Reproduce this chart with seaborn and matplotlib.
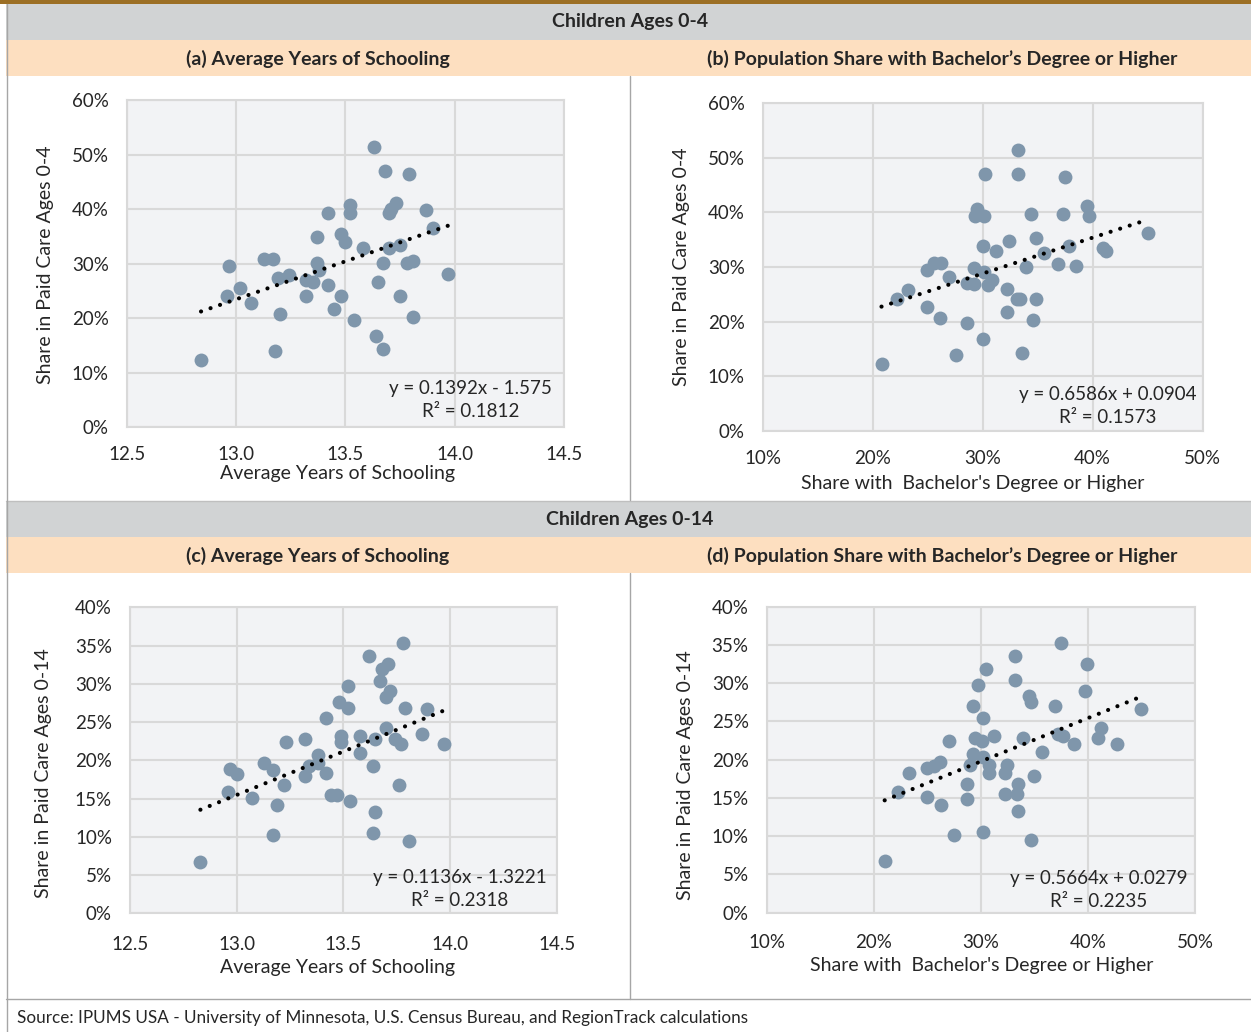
import numpy as np
import pandas as pd
import seaborn as sns
import matplotlib.pyplot as plt
from matplotlib.patches import Rectangle
from matplotlib.lines import Line2D
from matplotlib.ticker import PercentFormatter, FormatStrFormatter

# ---- data ----
# (a) ages 0-4 vs average years of schooling
a_x = [13.63, 13.68, 13.79, 13.52, 13.52, 13.42, 13.73, 13.71, 13.70, 13.87,
       13.90, 13.37, 13.48, 13.50, 13.58, 13.70, 13.75, 13.67, 13.78, 13.81,
       13.37, 13.38, 13.97, 12.97, 13.13, 13.17, 13.19, 13.24, 13.32, 13.35,
       13.42, 13.65, 13.02, 12.96, 13.07, 13.32, 13.48, 13.75, 13.20, 13.45,
       13.54, 13.81, 13.64, 13.67, 13.18, 12.84]
a_y = [51.4, 47.0, 46.5, 40.7, 39.2, 39.3, 41.2, 40.1, 39.2, 39.8,
       36.5, 34.9, 35.4, 33.9, 32.9, 32.9, 33.4, 30.1, 30.1, 30.5,
       30.1, 28.8, 28.1, 29.6, 30.9, 30.9, 27.4, 28.0, 27.0, 26.6,
       26.1, 26.6, 25.6, 24.1, 22.7, 24.1, 24.1, 24.1, 20.7, 21.7,
       19.7, 20.2, 16.8, 14.4, 13.9, 12.4]

# (b) ages 0-4 vs bachelor's share (%)
b_x = [33.2, 30.2, 33.2, 37.5, 29.5, 29.3, 30.1, 34.4, 37.3, 39.5,
       39.7, 45.0, 34.8, 32.4, 30.0, 31.2, 35.6, 37.8, 40.9, 41.2,
       36.8, 38.5, 33.9, 29.2, 24.9, 25.6, 26.2, 26.9, 28.6, 29.2,
       30.1, 30.5, 30.8, 32.2, 33.1, 33.4, 34.8, 22.2, 23.2, 24.9,
       26.1, 28.6, 32.2, 34.6, 30.0, 33.6, 27.6, 20.8]
b_y = [51.4, 47.0, 47.0, 46.5, 40.7, 39.3, 39.3, 39.7, 39.7, 41.2,
       39.3, 36.3, 35.4, 34.8, 33.9, 32.9, 32.5, 33.9, 33.5, 32.9,
       30.5, 30.1, 30.0, 29.9, 29.4, 30.8, 30.8, 28.1, 27.1, 26.8,
       29.0, 26.7, 27.6, 26.0, 24.1, 24.1, 24.1, 24.1, 25.7, 22.7,
       20.6, 19.7, 21.7, 20.2, 16.8, 14.3, 13.9, 12.3]

# (c) ages 0-14 vs average years of schooling
c_x = [13.78, 13.62, 13.71, 13.68, 13.67, 13.72, 13.70, 13.52, 13.48, 13.52,
       13.79, 13.89, 13.42, 13.70, 13.87, 13.49, 13.49, 13.58, 13.65, 13.74,
       13.77, 13.97, 13.23, 13.32, 13.58, 13.38, 13.38, 13.64, 13.34, 13.32,
       13.42, 13.13, 13.17, 12.97, 13.00, 13.22, 13.76, 12.96, 13.07, 13.44,
       13.47, 13.53, 13.19, 13.65, 13.17, 13.64, 13.81, 12.83]
c_y = [35.3, 33.6, 32.6, 31.9, 30.4, 29.1, 28.3, 29.7, 27.6, 26.9,
       26.9, 26.7, 25.5, 24.2, 23.4, 23.2, 22.4, 23.2, 22.8, 22.8,
       22.1, 22.1, 22.4, 22.8, 21.0, 20.7, 19.7, 19.3, 19.3, 17.9,
       18.3, 19.6, 18.7, 18.9, 18.2, 16.8, 16.8, 15.9, 15.1, 15.5,
       15.5, 14.7, 14.1, 13.3, 10.2, 10.5, 9.5, 6.7]

# (d) ages 0-14 vs bachelor's share (%)
d_x = [37.43, 33.20, 39.92, 30.47, 33.20, 29.72, 39.67, 34.45, 34.70, 29.22,
       36.93, 44.90, 30.22, 41.17, 37.18, 37.68, 31.21, 33.95, 29.47, 30.09,
       40.92, 26.98, 38.68, 42.66, 35.69, 29.22, 30.22, 26.17, 25.61, 24.93,
       32.46, 32.24, 30.78, 30.72, 28.97, 23.28, 34.95, 28.72, 33.45, 22.26,
       24.99, 32.24, 33.33, 28.72, 26.24, 33.45, 27.48, 30.22, 34.70, 21.01]
d_y = [35.3, 33.6, 32.5, 31.8, 30.4, 29.7, 29.0, 28.3, 27.6, 27.0,
       27.0, 26.6, 25.5, 24.2, 23.4, 23.1, 23.1, 22.8, 22.8, 22.4,
       22.8, 22.4, 22.0, 22.0, 21.0, 20.7, 20.3, 19.7, 19.2, 18.9,
       19.3, 18.2, 19.3, 18.2, 19.3, 18.2, 17.9, 16.8, 16.8, 15.8,
       15.1, 15.5, 15.5, 14.8, 14.1, 13.3, 10.2, 10.5, 9.5, 6.7]

# Excel trendline coefficients printed on the chart
fits = {
    "a": (0.1392, -1.575, "0.1812"),
    "b": (0.6586, 0.0904, "0.1573"),
    "c": (0.1136, -1.3221, "0.2318"),
    "d": (0.5664, 0.0279, "0.2235"),
}

W, H = 1251, 1032
BROWN = "#9C6F25"
GREY_BAND = "#D1D3D4"
PEACH = "#FDDFC0"
DOT = "#7F96AB"
GRID = "#D9D9D9"
TXT = "#262626"

sns.set_style("white")
plt.rcParams["font.family"] = ["Lato", "DejaVu Sans"]


def fx(px):
    return px / W


def fy(py):
    return 1 - py / H


def band(fig, y0, y1, color, x0=6, x1=W):
    fig.patches.append(Rectangle((fx(x0), fy(y1)), (x1 - x0) / W, (y1 - y0) / H,
                                 transform=fig.transFigure, facecolor=color,
                                 edgecolor="none", zorder=0))


def vline(fig, x, y0, y1, color="#A6A6A6", lw=1.0):
    fig.lines.append(Line2D([fx(x), fx(x)], [fy(y0), fy(y1)], transform=fig.transFigure,
                            color=color, lw=lw))


def hline(fig, y, x0, x1, color="#A6A6A6", lw=1.0):
    fig.lines.append(Line2D([fx(x0), fx(x1)], [fy(y), fy(y)], transform=fig.transFigure,
                            color=color, lw=lw))


fig = plt.figure(figsize=(W / 100, H / 100), dpi=100)

# header bands
band(fig, 0, 4, BROWN, x0=0)
band(fig, 4, 40, GREY_BAND)
band(fig, 40, 76, PEACH)
band(fig, 501, 537, GREY_BAND)
band(fig, 537, 573, PEACH)
hline(fig, 500.5, 6, W, color="#BFBFBF")
hline(fig, 999, 6, W, color="#A6A6A6")
vline(fig, 6.5, 4, H, color="#A6A6A6")
vline(fig, 630, 76, 500)
vline(fig, 630, 573, 999)

TITLE_FS = 14
fig.text(fx(630), fy(22), "Children Ages 0-4", ha="center", va="center",
         fontsize=TITLE_FS, fontweight="bold", color=TXT)
fig.text(fx(630), fy(519), "Children Ages 0-14", ha="center", va="center",
         fontsize=TITLE_FS, fontweight="bold", color=TXT)
fig.text(fx(318), fy(59), "(a) Average Years of Schooling", ha="center", va="center",
         fontsize=TITLE_FS, fontweight="bold", color=TXT)
fig.text(fx(942), fy(59), "(b) Population Share with Bachelor\u2019s Degree or Higher",
         ha="center", va="center", fontsize=TITLE_FS, fontweight="bold", color=TXT)
fig.text(fx(318), fy(556), "(c) Average Years of Schooling", ha="center", va="center",
         fontsize=TITLE_FS, fontweight="bold", color=TXT)
fig.text(fx(942), fy(556), "(d) Population Share with Bachelor\u2019s Degree or Higher",
         ha="center", va="center", fontsize=TITLE_FS, fontweight="bold", color=TXT)
fig.text(fx(17), fy(1018), "Source: IPUMS USA - University of Minnesota, U.S. Census Bureau, "
         "and RegionTrack calculations", ha="left", va="center", fontsize=12.3, color=TXT)

panels = [
    # key, x, y, axes box px (l, t, r, b), xlim, ymax, ystep, xlabel, ylabel,
    # equation centre (axes frac), xlabel centre px, ylabel centre px, x tick pad
    ("a", a_x, a_y, (126.7, 100, 564, 427.3), (12.5, 14.5), 60, 10,
     "Average Years of Schooling", "Share in Paid Care Ages 0-4",
     (0.787, 0.083), (337, 474), (46, 265), 13.5),
    ("b", b_x, b_y, (762.7, 103.3, 1202.7, 430.7), (10, 50), 60, 10,
     "Share with  Bachelor's Degree or Higher", "Share in Paid Care Ages 0-4",
     (0.785, 0.075), (973, 483), (682, 267), 14),
    ("c", c_x, c_y, (130, 607.3, 556.7, 913.3), (12.5, 14.5), 40, 5,
     "Average Years of Schooling", "Share in Paid Care Ages 0-14",
     (0.773, 0.079), (337, 967), (44, 773), 16),
    ("d", d_x, d_y, (766.7, 606.7, 1195.3, 912.7), (10, 50), 40, 5,
     "Share with  Bachelor's Degree or Higher", "Share in Paid Care Ages 0-14",
     (0.775, 0.074), (982, 966), (685, 775), 15.5),
]

for (key, xs, ys, (l, t, r, b), xlim, ymax, ystep, xlabel, ylabel,
     eqpos, xlpos, ylpos, xpad) in panels:
    ax = fig.add_axes([fx(l), fy(b), (r - l) / W, (b - t) / H])
    pct_x = key in ("b", "d")
    df = pd.DataFrame({
        "x": np.array(xs) / 100 if pct_x else np.array(xs),
        "y": np.array(ys) / 100,
    })
    ax.set_facecolor("#F2F3F5")
    sns.scatterplot(data=df, x="x", y="y", ax=ax, color=DOT, s=100,
                    linewidth=0, zorder=3)

    slope, icpt, r2 = fits[key]
    tx = np.array([df["x"].min(), df["x"].max()])
    ax.plot(tx, slope * tx + icpt, color="black", lw=3,
            linestyle=(0, (0.01, 2.4)), dash_capstyle="round", zorder=4)

    sign = "-" if icpt < 0 else "+"
    ax.text(eqpos[0], eqpos[1], f"y = {slope}x {sign} {abs(icpt)}\nR\u00b2 = {r2}",
            transform=ax.transAxes, ha="center", va="center", multialignment="center",
            fontsize=13.5, color=TXT, linespacing=1.4, zorder=5)

    if pct_x:
        ax.set_xlim(xlim[0] / 100, xlim[1] / 100)
        ax.set_xticks(np.arange(xlim[0], xlim[1] + 1, 10) / 100)
        ax.xaxis.set_major_formatter(PercentFormatter(1.0, decimals=0))
    else:
        ax.set_xlim(*xlim)
        ax.set_xticks(np.arange(xlim[0], xlim[1] + 0.01, 0.5))
        ax.xaxis.set_major_formatter(FormatStrFormatter("%.1f"))
    ax.set_ylim(0, ymax / 100)
    ax.set_yticks(np.arange(0, ymax + 1, ystep) / 100)
    ax.yaxis.set_major_formatter(PercentFormatter(1.0, decimals=0))

    ax.grid(True, color=GRID, lw=1.5, zorder=0)
    ax.set_axisbelow(True)
    for sp in ax.spines.values():
        sp.set_color(GRID)
        sp.set_linewidth(1.5)
    ax.tick_params(length=0, labelsize=13.5, labelcolor=TXT)
    ax.tick_params(axis="y", pad=13)
    ax.tick_params(axis="x", pad=xpad)

    ax.set_xlabel(xlabel, fontsize=14, color=TXT)
    ax.set_ylabel(ylabel, fontsize=14, color=TXT)
    ax.xaxis.label.set_va("center")
    ax.yaxis.label.set_va("center")
    ax.xaxis.set_label_coords((xlpos[0] - l) / (r - l), (b - xlpos[1]) / (b - t))
    ax.yaxis.set_label_coords((ylpos[0] - l) / (r - l), (b - ylpos[1]) / (b - t))

fig.savefig("out.png", dpi=100)
